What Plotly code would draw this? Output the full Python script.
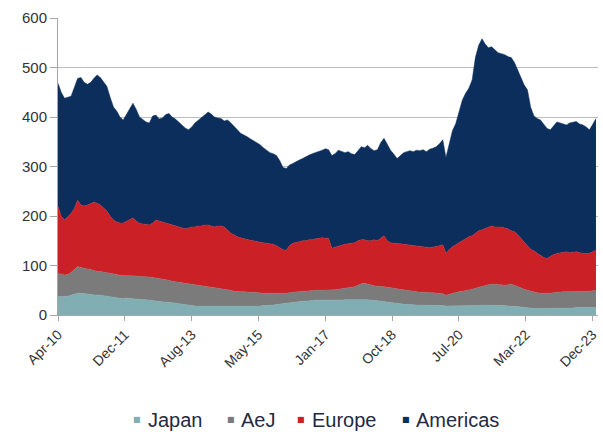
import plotly.graph_objects as go
import pandas as pd

# Monthly observations, Apr-2010 .. Jan-2024
dates = pd.date_range("2010-04-01", periods=166, freq="MS")

japan = [37,37,37,38,40,42,44,44,43,43, 42,41,40,40,39,38,36,35,34,33,
         33,34,34,33,32,32,31,31,30,29, 28,27,27,26,26,25,24,23,22,21,
         20,19,18,18,18,18,18,18,18,18, 18,17,17,17,17,17,17,17,17,18,
         18,18,18,19,19,20,20,21,22,22, 23,24,25,26,27,28,28,29,29,30,
         30,30,30,30,29,29,30,30,31,31, 31,31,32,32,32,31,30,30,29,28,
         27,26,25,24,23,22,22,21,21,20, 20,20,20,20,20,20,20,19,19,18,
         18,18,18,18,18,18,18,18,19,19, 20,20,20,20,20,20,19,19,18,18,
         18,17,16,15,14,14,13,13,13,13, 13,13,14,14,14,14,14,14,14,15,
         15,15,15,15,15,15]

aej = [47,45,44,44,46,50,54,52,51,50, 50,49,48,48,48,48,49,49,48,47,
       47,46,46,46,47,46,47,47,47,47, 47,47,45,45,44,43,43,43,43,43,
       44,43,43,42,41,40,40,39,38,37, 36,35,34,33,31,30,30,30,29,28,
       28,27,27,25,25,24,24,22,21,22, 21,21,21,21,20,20,20,20,20,20,
       20,20,20,20,21,22,22,23,23,24, 25,26,28,31,32,31,30,29,29,30,
       30,30,30,29,29,29,28,28,27,27, 27,26,26,25,25,25,24,25,24,22,
       24,26,28,29,30,31,32,34,35,37, 38,40,41,42,42,42,42,41,43,44,
       42,40,38,37,36,34,33,32,31,31, 30,31,31,32,32,33,33,33,33,33,
       33,33,33,33,34,34]

europe = [135,118,111,116,119,123,134,126,126,129, 134,138,138,134,129,124,115,108,106,106,
          106,110,114,117,111,107,106,105,105,110, 117,116,116,115,114,114,113,112,110,110,
          112,116,117,120,121,124,124,123,122,125, 126,126,121,115,114,111,109,107,106,105,
          104,103,102,102,101,100,99,97,93,88, 87,95,99,99,101,102,102,103,103,104,
          105,106,105,105,85,86,88,89,89,89, 89,89,90,89,88,88,90,93,92,97,
          103,94,91,92,93,93,93,93,94,93, 93,93,92,92,91,92,94,96,99,85,
          90,94,96,99,102,105,108,108,111,114, 114,115,117,118,116,116,117,116,113,108,
          108,105,100,94,90,85,84,80,76,72, 71,74,77,78,79,79,81,79,80,80,
          78,77,76,77,79,82]

americas = [249,250,246,242,237,245,246,258,250,244, 244,250,259,258,254,252,240,228,224,214,
            208,215,221,232,225,215,211,207,206,216, 212,206,210,219,223,218,216,212,207,204,
            198,202,210,214,218,222,228,226,222,218, 217,214,222,223,220,216,211,210,208,205,
            202,200,197,192,188,184,183,182,176,166, 165,163,161,164,165,166,170,171,174,174,
            175,177,181,179,187,189,193,188,185,186, 181,178,182,188,186,193,186,180,184,193,
            197,195,187,180,171,178,185,188,190,190, 193,193,196,193,199,200,202,206,212,193,
            213,234,245,262,284,294,300,315,355,375, 386,373,362,362,357,352,350,350,348,350,
            342,333,324,319,315,287,272,272,274,269, 263,256,260,266,263,260,256,262,263,263,
            260,259,256,249,257,266]

series_names = ["Japan", "AeJ", "Europe", "Americas"]
series_values = [japan, aej, europe, americas]
colors = ["#80AEB3", "#7B7B7B", "#CC2027", "#0C2E5C"]

tick_dates = ["2010-04-01", "2011-12-16", "2013-09-01", "2015-05-16", "2017-02-01",
              "2018-10-16", "2020-07-01", "2022-03-16", "2023-12-01"]
tick_labels = ["Apr-10", "Dec-11", "Aug-13", "May-15", "Jan-17",
               "Oct-18", "Jul-20", "Mar-22", "Dec-23"]

fig = go.Figure()
for name, vals, col in zip(series_names, series_values, colors):
    fig.add_trace(go.Scatter(
        x=dates, y=vals, name=name, stackgroup="one", mode="lines",
        line=dict(width=0.5, color=col), fillcolor=col, showlegend=False,
        hoverinfo="x+y+name"))

font_family = "Liberation Sans, Arial, sans-serif"

# legend drawn as annotations: a small square marker + label text
legend_marker_px = [137, 232, 302, 407]
legend_text_px = [147, 241, 312, 416]
plot_l, plot_r = 58, 600
leg_y = -0.352
for name, col, mx, tx in zip(series_names, colors, legend_marker_px, legend_text_px):
    fig.add_annotation(
        x=(mx - plot_l) / (plot_r - plot_l), y=leg_y, xref="paper", yref="paper",
        xanchor="center", yanchor="middle", showarrow=False,
        text="■", font=dict(family="DejaVu Sans", size=8, color=col))
    fig.add_annotation(
        x=(tx - plot_l) / (plot_r - plot_l), y=leg_y, xref="paper", yref="paper",
        xanchor="left", yanchor="middle", showarrow=False, borderpad=0,
        text=name, font=dict(family=font_family, size=20, color="#1F2A44"))

fig.update_layout(
    width=603, height=434,
    margin=dict(l=58, r=3, t=18, b=119),
    paper_bgcolor="white", plot_bgcolor="white",
    font=dict(family=font_family, color="#333333"),
    showlegend=False,
)
fig.update_xaxes(
    type="date", range=["2010-04-01", "2024-01-20"],
    tickvals=tick_dates, ticktext=tick_labels, tickangle=-45,
    tickfont=dict(size=14, color="#333333"),
    showgrid=False, showline=True, linecolor="#A6A6A6", linewidth=1,
    ticks="outside", ticklen=5, tickcolor="#A6A6A6",
)
fig.update_yaxes(
    range=[0, 600], tickvals=[0, 100, 200, 300, 400, 500, 600],
    tickfont=dict(size=15, color="#333333"),
    showgrid=True, gridcolor="#BDBDBD", gridwidth=1,
    showline=True, linecolor="#A6A6A6", linewidth=1,
    ticks="outside", ticklen=7, tickcolor="#A6A6A6",
    zeroline=False,
)

fig.write_html("out.html")
